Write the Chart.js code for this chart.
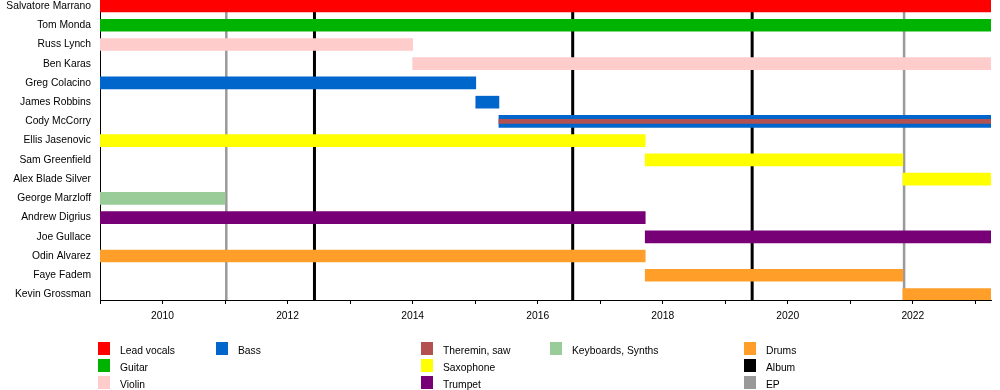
<!DOCTYPE html>
<html>
<head>
<meta charset="utf-8">
<script src="https://cdn.jsdelivr.net/npm/chart.js@4.4.1/dist/chart.umd.min.js"></script>
<style>
  html, body { margin: 0; padding: 0; background: #fff; }
  #wrap { position: relative; width: 1000px; height: 390px; overflow: hidden; }
  #chart { position: absolute; left: 0; top: 0; }
  .lg-sw { position: absolute; width: 12px; height: 13px; }
  .lg-tx { position: absolute; font-family: 'Liberation Sans', Arial, sans-serif; font-size: 10.3px; line-height: 12px; color: #000; white-space: nowrap; }
</style>
</head>
<body>
<div id="wrap">
  <canvas id="chart" width="1000" height="390"></canvas>
  <div id="legend"></div>
</div>
<script>
// ---------------- data ----------------
const members = ['Salvatore Marrano', 'Tom Monda', 'Russ Lynch', 'Ben Karas', 'Greg Colacino',
  'James Robbins', 'Cody McCorry', 'Ellis Jasenovic', 'Sam Greenfield', 'Alex Blade Silver',
  'George Marzloff', 'Andrew Digrius', 'Joe Gullace', 'Odin Alvarez', 'Faye Fadem', 'Kevin Grossman'];
const timelineStart = 2009;
const timelineEnd = 2023.25;
const memberStart = [2009, 2009, 2009, 2014.0, 2009, 2015.01, 2015.38, 2009, 2017.72, 2021.84,
  2009, 2009, 2017.72, 2009, 2017.72, 2021.84];
const memberEnd = [2023.25, 2023.25, 2014.0, 2023.25, 2015.01, 2015.38, 2023.25, 2017.72, 2021.84, 2023.25,
  2011.0, 2017.72, 2023.25, 2017.72, 2021.84, 2023.25];
const memberRoles = [['Lead vocals'], ['Guitar'], ['Violin'], ['Violin'], ['Bass'], ['Bass'],
  ['Bass', 'Theremin, saw'], ['Saxophone'], ['Saxophone'], ['Saxophone'], ['Keyboards, Synths'],
  ['Trumpet'], ['Trumpet'], ['Drums'], ['Drums'], ['Drums']];
const roles = ['Lead vocals', 'Guitar', 'Violin', 'Bass', 'Theremin, saw', 'Saxophone', 'Trumpet', 'Keyboards, Synths', 'Drums'];
const roleColors = ['#ff0000', '#00b300', '#ffcccc', '#0066cc', '#b35050', '#ffff00', '#770077', '#99cc99', '#ff9f2a'];
const albumDates = [2012.43, 2016.56, 2019.43];
const epDates = [2011.02, 2021.86];
const xTickYears = [2009, 2010, 2011, 2012, 2013, 2014, 2015, 2016, 2017, 2018, 2019, 2020, 2021, 2022, 2023];
const legendLabels = ['Lead vocals', 'Guitar', 'Violin', 'Bass', 'Theremin, saw', 'Saxophone', 'Trumpet', 'Keyboards, Synths', 'Drums', 'Album', 'EP'];
const legendColors = ['#ff0000', '#00b300', '#ffcccc', '#0066cc', '#b35050', '#ffff00', '#770077', '#99cc99', '#ff9f2a', '#000000', '#999999'];

// ---------------- layout ----------------
const legendSlots = [[98, 0], [98, 1], [98, 2], [216, 0], [421, 0], [421, 1], [421, 2], [550, 0], [744, 0], [744, 1], [744, 2]];

const FONT = "'Liberation Sans', Arial, sans-serif";
Chart.defaults.font.family = FONT;
Chart.defaults.font.size = 10.3;
Chart.defaults.color = '#000';

const datasets = roles.map((role, r) => {
  const data = [];
  members.forEach((m, i) => {
    if (memberRoles[i].includes(role)) data.push({ y: i, x: [memberStart[i], memberEnd[i]] });
  });
  const thin = role === 'Theremin, saw';
  return {
    label: role,
    data: data,
    backgroundColor: roleColors[r],
    borderWidth: 0,
    barThickness: thin ? 4 : 12,
    grouped: false,
    order: thin ? 0 : 1
  };
});

const releaseLines = {
  id: 'releaseLines',
  beforeDatasetsDraw(chart) {
    const { ctx, chartArea, scales } = chart;
    const draw = (dates, color, w) => {
      ctx.save();
      ctx.strokeStyle = color;
      ctx.lineWidth = w;
      dates.forEach(d => {
        const x = scales.x.getPixelForValue(d);
        ctx.beginPath();
        ctx.moveTo(x, chartArea.top);
        ctx.lineTo(x, chartArea.bottom);
        ctx.stroke();
      });
      ctx.restore();
    };
    draw(epDates, '#999999', 2.5);
    draw(albumDates, '#000000', 3);
  }
};

new Chart(document.getElementById('chart'), {
  type: 'bar',
  data: { datasets },
  options: {
    responsive: false,
    animation: false,
    indexAxis: 'y',
    layout: { padding: { top: 0, right: 9, bottom: 0, left: 0 } },
    plugins: { legend: { display: false }, tooltip: { enabled: false } },
    scales: {
      x: {
        type: 'linear',
        position: 'bottom',
        offset: false,
        min: timelineStart,
        max: timelineEnd,
        afterBuildTicks: (s) => { s.ticks = xTickYears.map(v => ({ value: v })); },
        afterFit: (s) => { s.height = 90; s.paddingLeft = 0; s.paddingRight = 0; },
        ticks: {
          autoSkip: false, maxRotation: 0, padding: 6, color: '#000',
          callback: (v) => (v % 2 === 0 ? String(v) : '')
        },
        grid: { display: true, offset: false, drawOnChartArea: false, drawTicks: true, tickLength: 4, color: '#000', lineWidth: 1 },
        border: { display: true, color: '#000', width: 1 }
      },
      y: {
        type: 'linear',
        position: 'left',
        offset: false,
        reverse: true,
        min: -0.312,
        max: 15.286,
        afterBuildTicks: (s) => { s.ticks = members.map((_, i) => ({ value: i })); },
        afterFit: (s) => { s.width = 100; s.paddingTop = 0; s.paddingBottom = 0; },
        ticks: {
          autoSkip: false, padding: 9, color: '#000',
          callback: (v) => members[v]
        },
        grid: { display: false, offset: false, drawTicks: false },
        border: { display: true, color: '#000', width: 1 }
      }
    }
  },
  plugins: [releaseLines]
});

// ---------------- legend ----------------
const lg = document.getElementById('legend');
legendLabels.forEach((label, i) => {
  const [x, row] = legendSlots[i];
  const sw = document.createElement('div');
  sw.className = 'lg-sw';
  sw.style.left = x + 'px';
  sw.style.top = (342 + 17 * row) + 'px';
  sw.style.background = legendColors[i];
  lg.appendChild(sw);
  const tx = document.createElement('div');
  tx.className = 'lg-tx';
  tx.style.left = (x + 22) + 'px';
  tx.style.top = (345 + 17 * row) + 'px';
  tx.textContent = label;
  lg.appendChild(tx);
});
</script>
</body>
</html>
